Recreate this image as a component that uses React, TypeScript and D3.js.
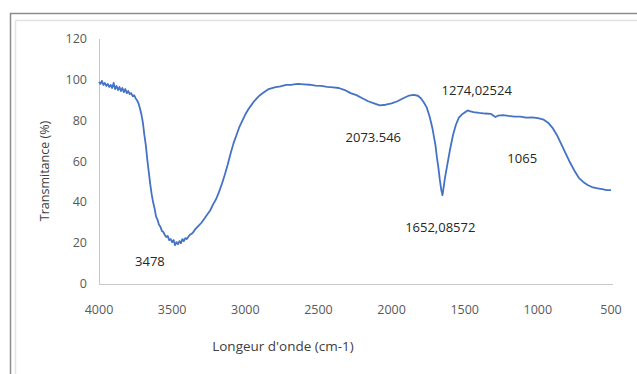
import React, { useEffect, useRef } from 'react';
import * as d3 from 'd3';

// FTIR spectrum
const waveNumbers = [
  4000, 3990, 3980, 3970, 3960, 3950, 3940, 3930, 3920, 3910, 3900, 3890, 3880, 3870, 3860, 3850,
  3840, 3830, 3820, 3810, 3800, 3790, 3780, 3770, 3760, 3750, 3740, 3730, 3720, 3710, 3700, 3690,
  3680, 3670, 3660, 3650, 3640, 3630, 3620, 3610, 3600, 3590, 3580, 3570, 3560, 3550, 3540, 3530,
  3520, 3510, 3500, 3490, 3480, 3470, 3460, 3450, 3440, 3430, 3420, 3410, 3400, 3380, 3360, 3340,
  3320, 3300, 3280, 3260, 3240, 3220, 3200, 3180, 3160, 3140, 3120, 3100, 3080, 3060, 3040, 3020,
  3000, 2980, 2960, 2940, 2920, 2900, 2880, 2860, 2840, 2800, 2760, 2720, 2680, 2640, 2600, 2560,
  2520, 2480, 2440, 2400, 2360, 2320, 2280, 2240, 2200, 2160, 2120, 2080, 2040, 2000, 1960, 1920,
  1880, 1850, 1820, 1800, 1780, 1760, 1740, 1720, 1700, 1690, 1680, 1670, 1660, 1652, 1645, 1635,
  1620, 1600, 1580, 1560, 1540, 1520, 1500, 1480, 1460, 1440, 1400, 1360, 1320, 1290, 1270, 1240,
  1200, 1160, 1120, 1080, 1040, 1000, 960, 930, 900, 870, 840, 810, 780, 750, 720, 690,
  660, 630, 600, 560, 530, 500
];

const transmittance = [
  99, 98, 99.5, 97.5, 98.5, 97, 98, 96.5, 97.5, 96, 98.5, 95.5, 97, 95, 96.5, 94.5,
  96, 94, 95.5, 93.5, 94.5, 93, 93.5, 92, 92.5, 91, 90, 88.5, 86, 83, 79, 73,
  68, 61, 55, 49, 44, 40, 37, 33, 31.5, 29, 28, 26, 25.5, 24, 23, 23.5,
  21.5, 22, 20.5, 21.5, 19, 20.5, 19.5, 21, 20, 22, 21, 22.5, 22, 24, 25, 27,
  28.5, 30, 32, 34, 36, 39, 41.5, 45, 49, 53.5, 58.5, 64, 69, 73, 77, 80,
  83, 85.5, 87.5, 89.5, 91, 92.5, 93.5, 94.5, 95.5, 96.3, 96.8, 97.5, 97.6, 98, 97.8, 97.6,
  97.2, 97, 96.6, 96.3, 96, 95, 93.5, 92.5, 91, 89.5, 88.5, 87.5, 87.8, 88.5, 89.5, 91,
  92.3, 92.6, 92.2, 91, 89, 86.5, 82, 76, 68, 62, 57, 51, 46, 43.5, 47, 52,
  58, 66, 73, 78, 81.5, 83, 84, 85, 84.5, 84.2, 83.8, 83.5, 83.3, 81.8, 82.5, 82.7,
  82.3, 82, 82, 81.5, 81.6, 81.2, 80.5, 79, 76.5, 73, 68.5, 64, 59.5, 55.5, 52, 50,
  48.5, 47.5, 47, 46.5, 46, 46
];

const xTicks = [4000, 3500, 3000, 2500, 2000, 1500, 1000, 500];
const yTicks = [0, 20, 40, 60, 80, 100, 120];

// peak labels, anchored in data units (centre x, baseline y)
const peakLabels = ['3478', '2073.546', '1274,02524', '1065', '1652,08572'];
const peakLabelWn = [3652, 2125, 1418, 1107, 1667];
const peakLabelT = [8.8, 69.6, 92.6, 59.3, 25.5];

const App: React.FC = () => {
  const svgRef = useRef<SVGSVGElement>(null);
  const width = 637;
  const height = 374;

  useEffect(() => {
    if (!svgRef.current) return;
    const svg = d3.select(svgRef.current);
    svg.selectAll('*').remove();

    const font = "'Open Sans', 'Liberation Sans', sans-serif";

    // chart frame (Excel-like double border)
    svg.append('path')
      .attr('d', `M10.5,${height} V13.5 H${width}`)
      .attr('fill', 'none')
      .attr('stroke', '#8c8c8c')
      .attr('stroke-width', 1.5);
    svg.append('path')
      .attr('d', `M15.5,${height} V20.5 H${width}`)
      .attr('fill', 'none')
      .attr('stroke', '#e3e3e3')
      .attr('stroke-width', 1.5);

    const x = d3.scaleLinear().domain([4000, 500]).range([99, 611]);
    const y = d3.scaleLinear().domain([0, 120]).range([284, 39]);

    // axis lines
    svg.append('line')
      .attr('x1', 99.5).attr('x2', 99.5)
      .attr('y1', y(120)).attr('y2', y(0))
      .attr('stroke', '#c8c8c8').attr('stroke-width', 1);
    svg.append('line')
      .attr('x1', 99).attr('x2', 613)
      .attr('y1', y(0) + 0.5).attr('y2', y(0) + 0.5)
      .attr('stroke', '#c8c8c8').attr('stroke-width', 1.2);

    // tick labels
    svg.append('g').selectAll('text')
      .data(yTicks)
      .enter().append('text')
      .attr('x', 87)
      .attr('y', d => y(d) + 4)
      .attr('text-anchor', 'end')
      .style('font-family', font)
      .style('font-size', '12.5px')
      .style('fill', '#595959')
      .text(d => d);

    svg.append('g').selectAll('text')
      .data(xTicks)
      .enter().append('text')
      .attr('x', d => x(d))
      .attr('y', 314)
      .attr('text-anchor', 'middle')
      .style('font-family', font)
      .style('font-size', '12.5px')
      .style('fill', '#595959')
      .text(d => d);

    // axis titles
    svg.append('text')
      .attr('x', 283)
      .attr('y', 351)
      .attr('text-anchor', 'middle')
      .style('font-family', font)
      .style('font-size', '13.5px')
      .style('fill', '#404040')
      .text("Longeur d'onde  (cm-1)");

    svg.append('text')
      .attr('transform', 'translate(49,171) rotate(-90)')
      .attr('text-anchor', 'middle')
      .style('font-family', font)
      .style('font-size', '12.5px')
      .style('fill', '#404040')
      .text('Transmitance (%)');

    // spectrum
    const points = waveNumbers.map((wn, i) => [wn, transmittance[i]] as [number, number]);
    const line = d3.line<[number, number]>()
      .x(d => x(d[0]))
      .y(d => y(d[1]));

    svg.append('path')
      .datum(points)
      .attr('fill', 'none')
      .attr('stroke', '#4472c4')
      .attr('stroke-width', 1.8)
      .attr('stroke-linejoin', 'round')
      .attr('d', line);

    // peak annotations
    svg.append('g').selectAll('text')
      .data(peakLabels)
      .enter().append('text')
      .attr('x', (d, i) => x(peakLabelWn[i]))
      .attr('y', (d, i) => y(peakLabelT[i]))
      .attr('text-anchor', 'middle')
      .style('font-family', font)
      .style('font-size', '13px')
      .style('fill', '#262626')
      .text(d => d);
  }, []);

  return (
    <svg
      ref={svgRef}
      width={width}
      height={height}
      style={{ position: 'absolute', left: 0, top: 0, background: '#fff' }}
    />
  );
};

export default App;
